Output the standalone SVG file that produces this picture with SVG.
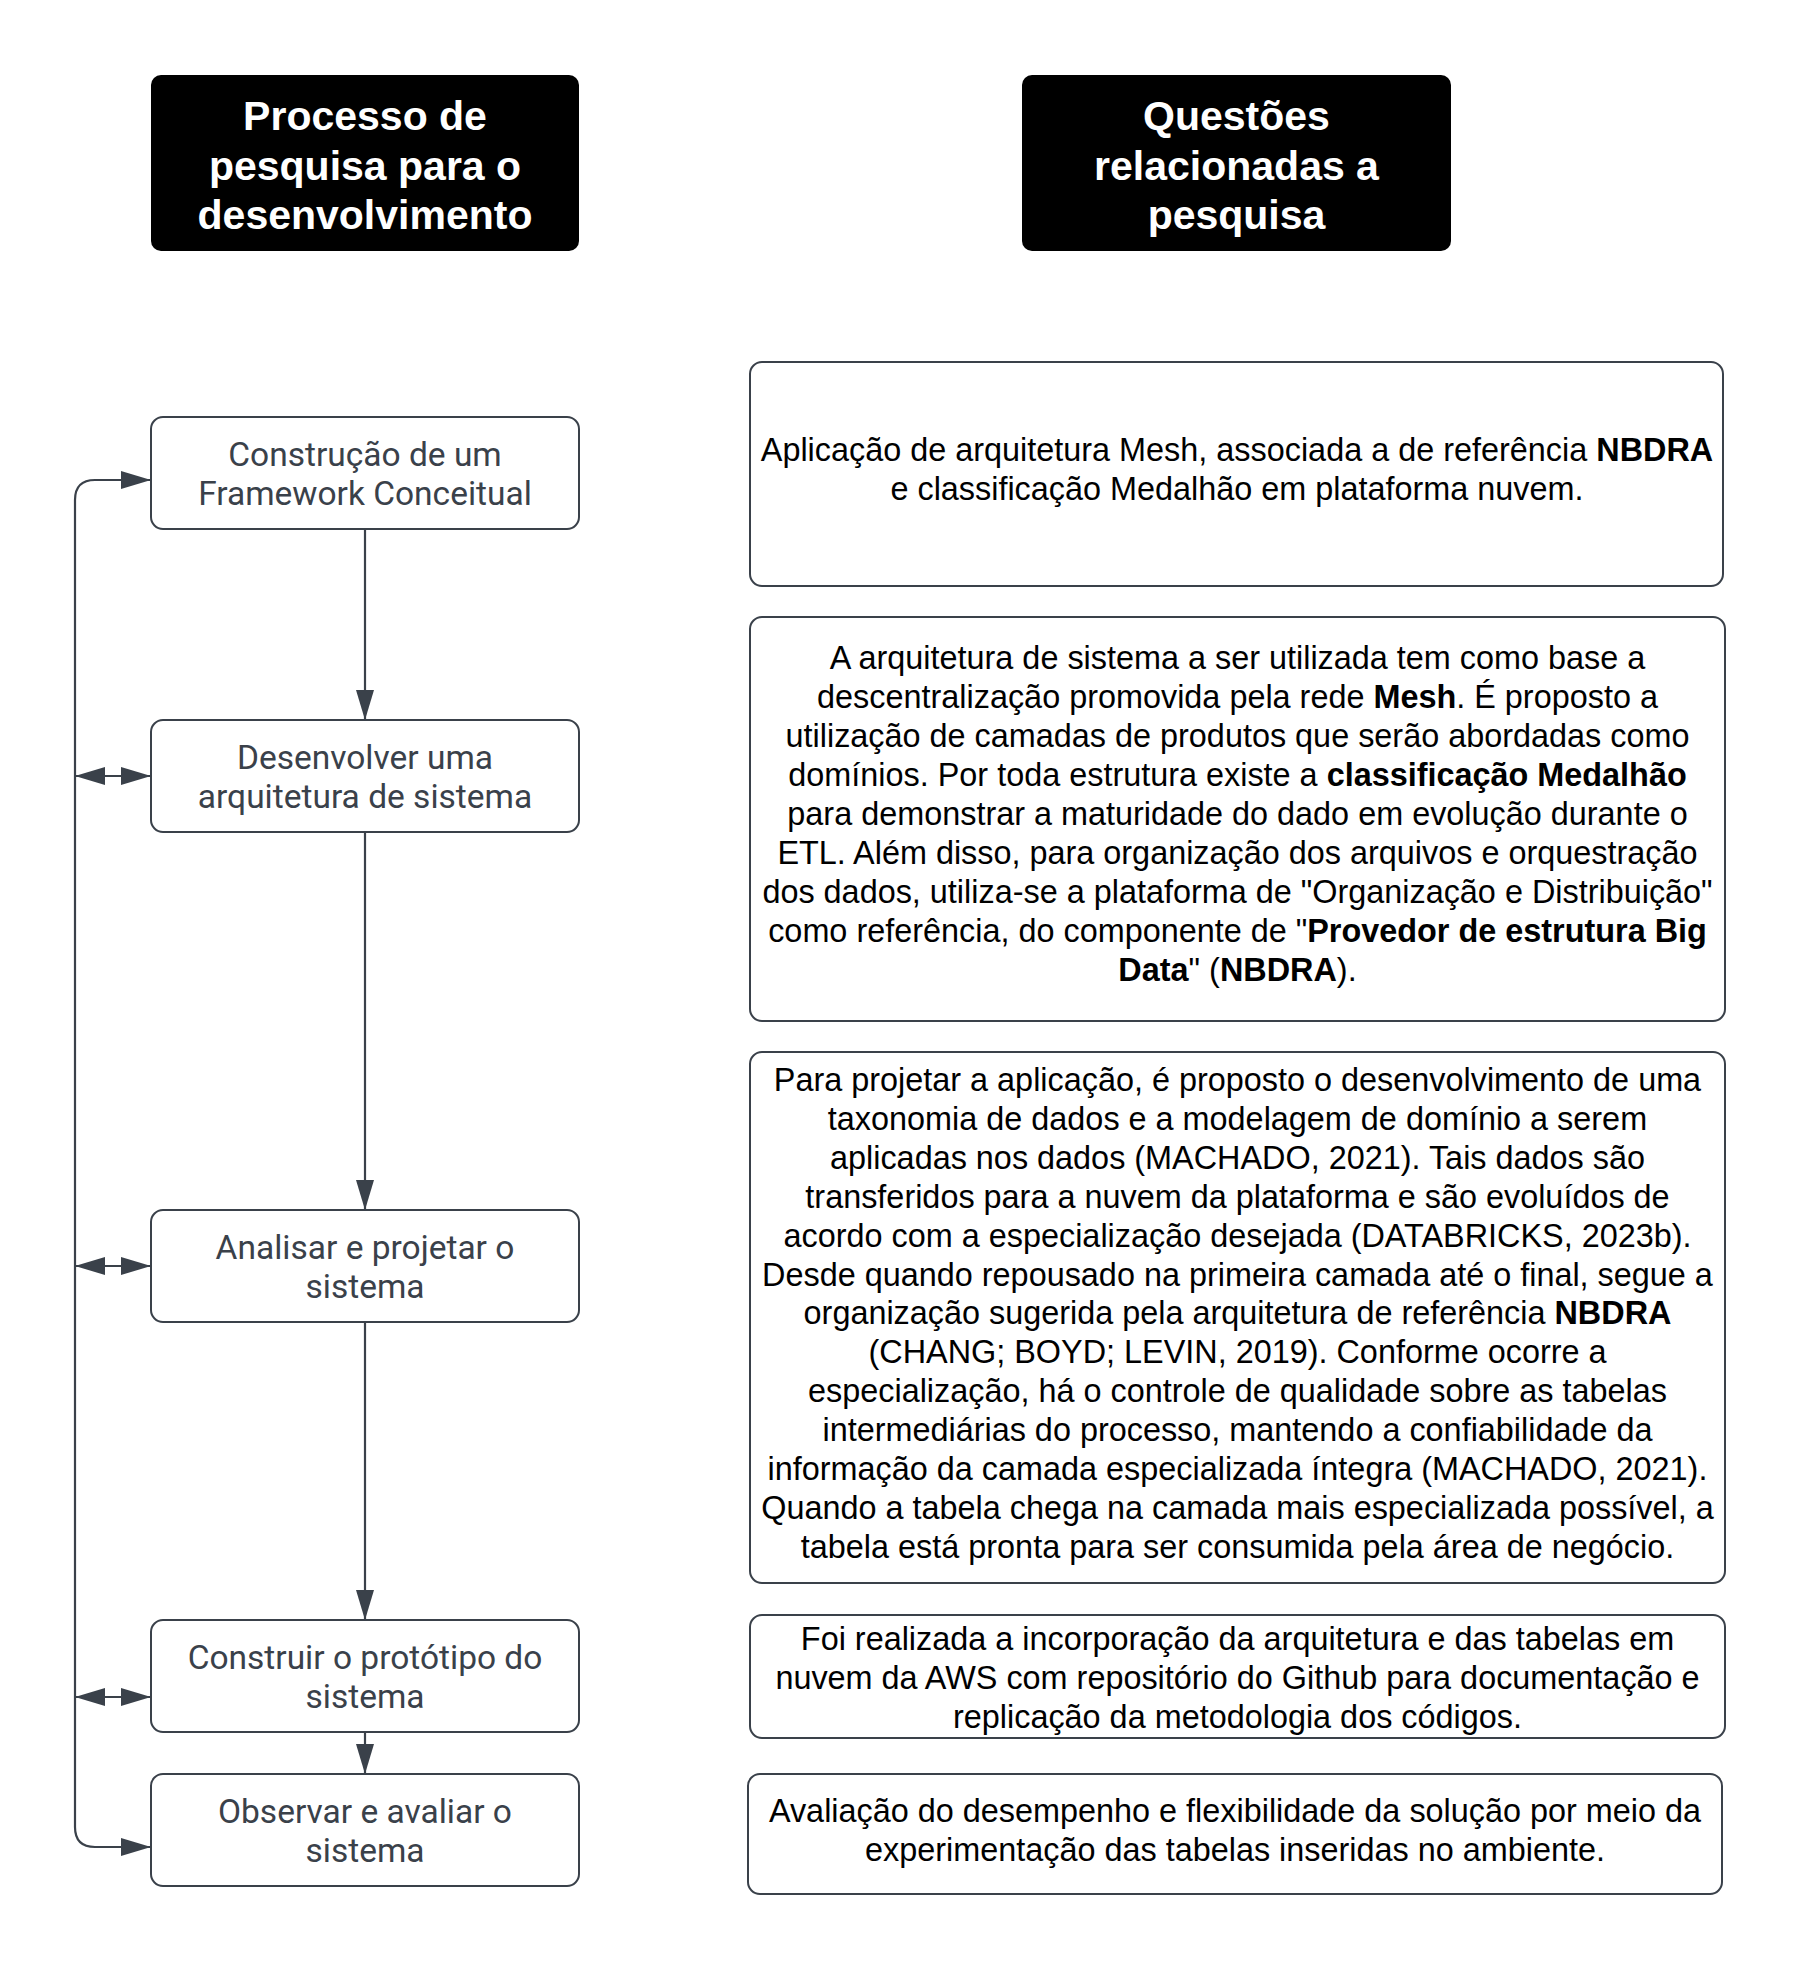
<svg xmlns="http://www.w3.org/2000/svg" width="1800" height="1971" viewBox="0 0 1800 1971">
<style>
.hdr{fill:#000000;}
.ht{font-family:"Liberation Sans",Arial,sans-serif;font-weight:bold;font-size:41px;fill:#ffffff;text-anchor:middle;}
.node{fill:#ffffff;stroke:#3a414a;stroke-width:2;}
.nt{font-family:Roboto,"Noto Sans",sans-serif;font-size:33.5px;fill:#3a414a;text-anchor:middle;}
.box{fill:#ffffff;stroke:#3a414a;stroke-width:2;}
.rt{font-family:"Liberation Sans",Arial,sans-serif;font-size:32.4px;fill:#000000;text-anchor:middle;}
.b{font-weight:bold;}
.conn{fill:none;stroke:#3a414a;stroke-width:2.2;}
</style>
<defs>
<marker id="ah" viewBox="0 0 30 18" refX="30" refY="9" markerWidth="30" markerHeight="18" markerUnits="userSpaceOnUse" orient="auto-start-reverse">
<path d="M0,0 L30,9 L0,18 z" fill="#3a414a"/>
</marker>
</defs>
<rect width="1800" height="1971" fill="#ffffff"/>

<g id="header-processo">
<rect class="hdr" x="151" y="75" width="428" height="176" rx="10"/>
<text class="ht" x="365" y="130">Processo de</text>
<text class="ht" x="365" y="179.5">pesquisa para o</text>
<text class="ht" x="365" y="229">desenvolvimento</text>
</g>
<g id="header-questoes">
<rect class="hdr" x="1022" y="75" width="429" height="176" rx="10"/>
<text class="ht" x="1236.5" y="130">Questões</text>
<text class="ht" x="1236.5" y="179.5">relacionadas a</text>
<text class="ht" x="1236.5" y="229">pesquisa</text>
</g>

<g id="connectors">
<path class="conn" d="M365,529 L365,720" marker-end="url(#ah)"/>
<path class="conn" d="M365,832 L365,1210" marker-end="url(#ah)"/>
<path class="conn" d="M365,1322 L365,1620" marker-end="url(#ah)"/>
<path class="conn" d="M365,1732 L365,1774" marker-end="url(#ah)"/>
<path class="conn" d="M151,480 L95,480 Q75,480 75,500 L75,1827 Q75,1847 95,1847 L151,1847" marker-start="url(#ah)" marker-end="url(#ah)"/>
<path class="conn" d="M75,776 L151,776" marker-start="url(#ah)" marker-end="url(#ah)"/>
<path class="conn" d="M75,1266 L151,1266" marker-start="url(#ah)" marker-end="url(#ah)"/>
<path class="conn" d="M75,1697 L151,1697" marker-start="url(#ah)" marker-end="url(#ah)"/>
</g>

<g id="node-framework">
<rect class="node" x="151" y="417" width="428" height="112" rx="12"/>
<text class="nt" x="365" y="465.5">Construção de um</text>
<text class="nt" x="365" y="504.5">Framework Conceitual</text>
</g>
<g id="node-arquitetura">
<rect class="node" x="151" y="720" width="428" height="112" rx="12"/>
<text class="nt" x="365" y="768.5">Desenvolver uma</text>
<text class="nt" x="365" y="807.5">arquitetura de sistema</text>
</g>
<g id="node-analisar">
<rect class="node" x="151" y="1210" width="428" height="112" rx="12"/>
<text class="nt" x="365" y="1258.5">Analisar e projetar o</text>
<text class="nt" x="365" y="1297.5">sistema</text>
</g>
<g id="node-prototipo">
<rect class="node" x="151" y="1620" width="428" height="112" rx="12"/>
<text class="nt" x="365" y="1668.5">Construir o protótipo do</text>
<text class="nt" x="365" y="1707.5">sistema</text>
</g>
<g id="node-observar">
<rect class="node" x="151" y="1774" width="428" height="112" rx="12"/>
<text class="nt" x="365" y="1822.5">Observar e avaliar o</text>
<text class="nt" x="365" y="1861.5">sistema</text>
</g>

<g id="q-framework">
<rect class="box" x="750" y="362" width="973" height="224" rx="12"/>
<text class="rt" x="1237" y="461">Aplicação de arquitetura Mesh, associada a de referência <tspan class="b">NBDRA</tspan></text>
<text class="rt" x="1237" y="500">e classificação Medalhão em plataforma nuvem.</text>
</g>
<g id="q-arquitetura">
<rect class="box" x="750" y="617" width="975" height="404" rx="12"/>
<text class="rt" x="1237.5" y="668.5">A arquitetura de sistema a ser utilizada tem como base a</text>
<text class="rt" x="1237.5" y="707.6">descentralização promovida pela rede <tspan class="b">Mesh</tspan>. É proposto a</text>
<text class="rt" x="1237.5" y="746.7">utilização de camadas de produtos que serão abordadas como</text>
<text class="rt" x="1237.5" y="785.8">domínios. Por toda estrutura existe a <tspan class="b">classificação Medalhão</tspan></text>
<text class="rt" x="1237.5" y="824.9">para demonstrar a maturidade do dado em evolução durante o</text>
<text class="rt" x="1237.5" y="864">ETL. Além disso, para organização dos arquivos e orquestração</text>
<text class="rt" x="1237.5" y="903.1">dos dados, utiliza-se a plataforma de "Organização e Distribuição"</text>
<text class="rt" x="1237.5" y="942.2">como referência, do componente de "<tspan class="b">Provedor de estrutura Big</tspan></text>
<text class="rt" x="1237.5" y="981.3"><tspan class="b">Data</tspan>" (<tspan class="b">NBDRA</tspan>).</text>
</g>
<g id="q-analisar">
<rect class="box" x="750" y="1052" width="975" height="531" rx="12"/>
<text class="rt" x="1237.5" y="1091">Para projetar a aplicação, é proposto o desenvolvimento de uma</text>
<text class="rt" x="1237.5" y="1129.9">taxonomia de dados e a modelagem de domínio a serem</text>
<text class="rt" x="1237.5" y="1168.8">aplicadas nos dados (MACHADO, 2021). Tais dados são</text>
<text class="rt" x="1237.5" y="1207.7">transferidos para a nuvem da plataforma e são evoluídos de</text>
<text class="rt" x="1237.5" y="1246.6">acordo com a especialização desejada (DATABRICKS, 2023b).</text>
<text class="rt" x="1237.5" y="1285.5">Desde quando repousado na primeira camada até o final, segue a</text>
<text class="rt" x="1237.5" y="1324.4">organização sugerida pela arquitetura de referência <tspan class="b">NBDRA</tspan></text>
<text class="rt" x="1237.5" y="1363.3">(CHANG; BOYD; LEVIN, 2019). Conforme ocorre a</text>
<text class="rt" x="1237.5" y="1402.2">especialização, há o controle de qualidade sobre as tabelas</text>
<text class="rt" x="1237.5" y="1441.1">intermediárias do processo, mantendo a confiabilidade da</text>
<text class="rt" x="1237.5" y="1480">informação da camada especializada íntegra (MACHADO, 2021).</text>
<text class="rt" x="1237.5" y="1518.9">Quando a tabela chega na camada mais especializada possível, a</text>
<text class="rt" x="1237.5" y="1557.8">tabela está pronta para ser consumida pela área de negócio.</text>
</g>
<g id="q-prototipo">
<rect class="box" x="750" y="1615" width="975" height="123" rx="12"/>
<text class="rt" x="1237.5" y="1650">Foi realizada a incorporação da arquitetura e das tabelas em</text>
<text class="rt" x="1237.5" y="1689">nuvem da AWS com repositório do Github para documentação e</text>
<text class="rt" x="1237.5" y="1728">replicação da metodologia dos códigos.</text>
</g>
<g id="q-observar">
<rect class="box" x="748" y="1774" width="974" height="120" rx="12"/>
<text class="rt" x="1235" y="1822">Avaliação do desempenho e flexibilidade da solução por meio da</text>
<text class="rt" x="1235" y="1861">experimentação das tabelas inseridas no ambiente.</text>
</g>
</svg>
